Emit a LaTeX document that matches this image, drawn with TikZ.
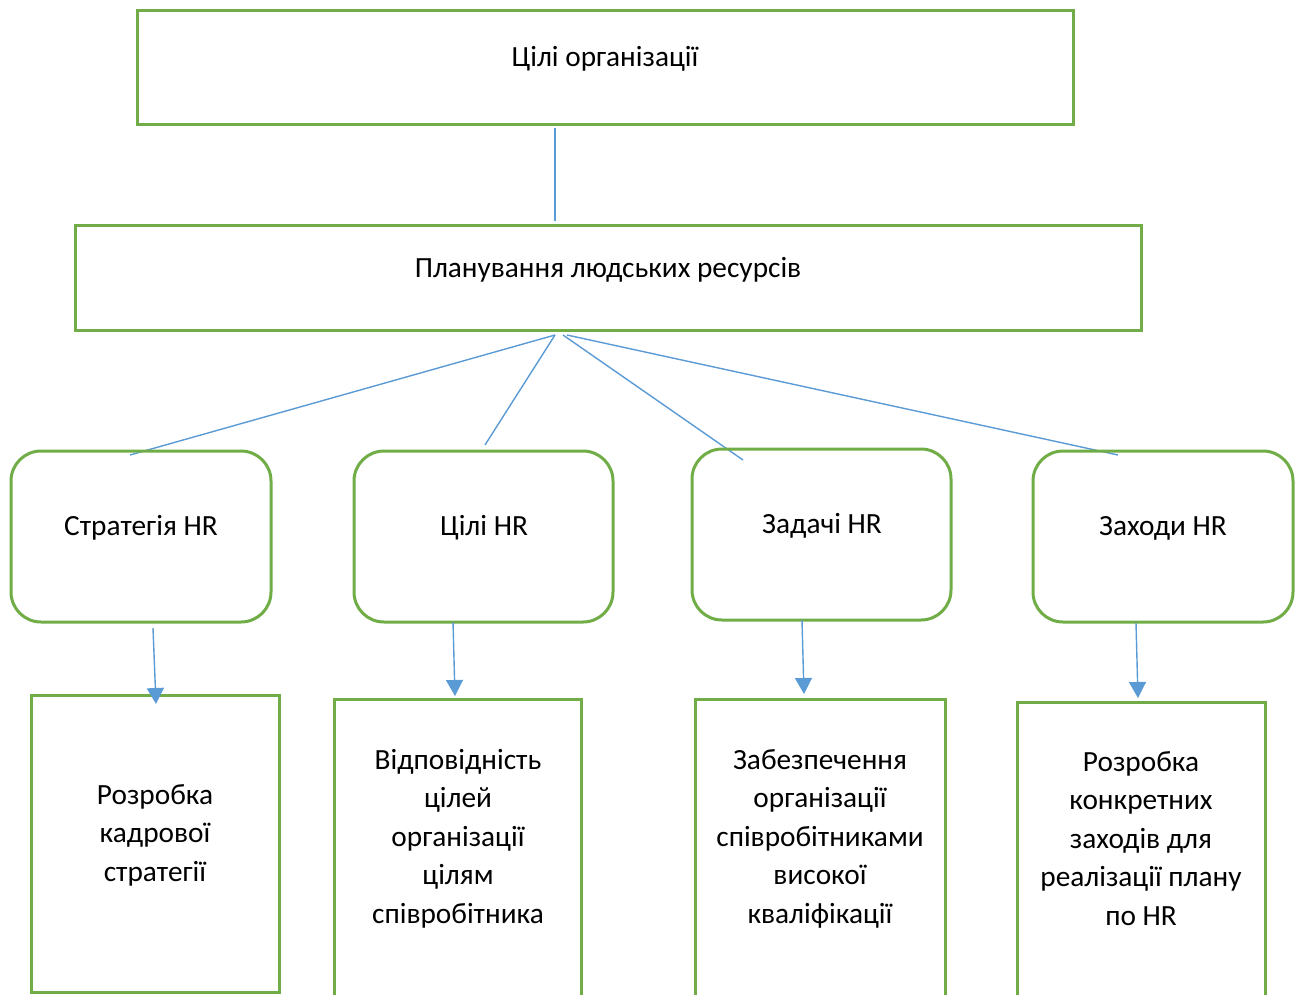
\documentclass[tikz,border=0pt]{standalone}
\usepackage{fontspec}
\setmainfont{Carlito}
\usetikzlibrary{arrows.meta}
\definecolor{boxgreen}{HTML}{70AD47}
\definecolor{lineblue}{HTML}{5B9BD5}
\begin{document}
\begin{tikzpicture}[x=1pt,y=-1pt,
  gbox/.style={draw=boxgreen,line width=3pt},
  rbox/.style={draw=boxgreen,line width=3pt,rounded corners=30pt},
  conn/.style={draw=lineblue,line width=1.4pt},
  arr/.style={draw=lineblue,line width=1.4pt,-{Triangle[width=17pt,length=16pt]}},
  lbl/.style={font=\fontsize{29.3}{38.5}\selectfont,align=center,inner sep=0pt,text=black}]
\useasboundingbox (0,0) rectangle (1299,994);
\clip (0,0) rectangle (1299,994);
% top boxes
\draw[gbox] (137,10) rectangle (1073,124);
\node[lbl] (t1) at (605,59) {Цілі організації};
\draw[gbox] (75,225) rectangle (1141,330);
\node[lbl] (t2) at (608,270) {Планування людських ресурсів};
\coordinate (c1a) at (555,128);
\coordinate (c1b) at (555,221);
\draw[conn] (c1a) -- (c1b);
% fan lines
\coordinate (f1) at (555,335);
\coordinate (f2) at (555,335);
\coordinate (f3) at (563,335);
\coordinate (f4) at (567,335);
\coordinate (e1) at (130,455);
\coordinate (e2) at (485,445);
\coordinate (e3) at (743,460);
\coordinate (e4) at (1118,455);
\draw[conn] (f1) -- (e1);
\draw[conn] (f2) -- (e2);
\draw[conn] (f3) -- (e3);
\draw[conn] (f4) -- (e4);
% rounded boxes
\draw[rbox] (11,451) rectangle (271,622);
\node[lbl] (r1) at (141,528) {Стратегія HR};
\draw[rbox] (354,451) rectangle (613,622);
\node[lbl] (r2) at (484,528) {Цілі HR};
\draw[rbox] (692,449) rectangle (951,620);
\node[lbl] (r3) at (822,526) {Задачі HR};
\draw[rbox] (1033,451) rectangle (1293,622);
\node[lbl] (r4) at (1163,528) {Заходи HR};
% arrows
\coordinate (a1s) at (153,628); \coordinate (a1e) at (156,704);
\coordinate (a2s) at (453,622); \coordinate (a2e) at (455,696);
\coordinate (a3s) at (802,620); \coordinate (a3e) at (804,694);
\coordinate (a4s) at (1136,623); \coordinate (a4e) at (1138,698);
% bottom boxes
\draw[gbox] (31,695) rectangle (279,992);
\draw[gbox] (334,699) rectangle (581,1010);
\draw[gbox] (695,699) rectangle (945,1010);
\draw[gbox] (1017,702) rectangle (1265,1010);
\draw[arr] (a1s) -- (a1e);
\draw[arr] (a2s) -- (a2e);
\draw[arr] (a3s) -- (a3e);
\draw[arr] (a4s) -- (a4e);
\node[lbl,anchor=base] (b1) at (155,881) {Розробка\\кадрової\\стратегії};
\node[lbl,anchor=base] (b2) at (458,923) {Відповідність\\цілей\\організації\\цілям\\співробітника};
\node[lbl,anchor=base] (b3) at (820,923) {Забезпечення\\організації\\співробітниками\\високої\\кваліфікації};
\node[lbl,anchor=base] (b4) at (1141,925) {Розробка\\конкретних\\заходів для\\реалізації плану\\по HR};
\end{tikzpicture}
\end{document}
